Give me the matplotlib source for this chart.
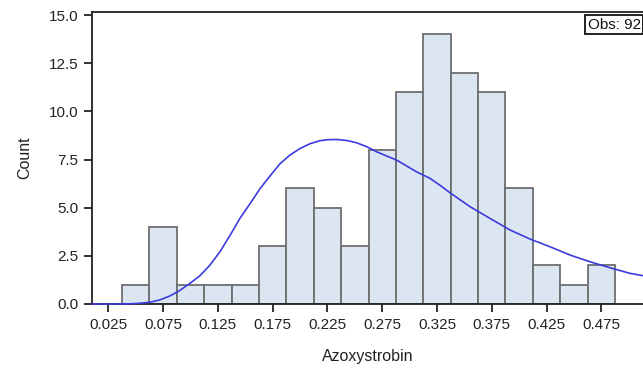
import matplotlib.pyplot as plt

plt.rcParams['font.family'] = ['Liberation Sans', 'DejaVu Sans']

# histogram of Azoxystrobin values, bins of width 0.025
bin_centers = [0.050, 0.075, 0.100, 0.125, 0.150, 0.175, 0.200, 0.225, 0.250,
               0.275, 0.300, 0.325, 0.350, 0.375, 0.400, 0.425, 0.450, 0.475]
counts = [1, 4, 1, 1, 1, 3, 6, 5, 3, 8, 11, 14, 12, 11, 6, 2, 1, 2]
bin_width = 0.025
n_obs = sum(counts)

# fitted density curve, scaled to counts
curve_x = [0.0104, 0.030, 0.045, 0.054, 0.063, 0.072, 0.081, 0.090, 0.0995,
           0.1087, 0.1178, 0.1269, 0.136, 0.1452, 0.1543, 0.1634, 0.1725,
           0.1817, 0.1908, 0.1999, 0.2091, 0.2182, 0.2258, 0.2334, 0.2425,
           0.2516, 0.2608, 0.2699, 0.2882, 0.3064, 0.3187, 0.3276, 0.337,
           0.3552, 0.3735, 0.3917, 0.410, 0.4282, 0.4465, 0.4647, 0.483,
           0.5012, 0.513]
curve_y = [0.0, 0.0, 0.01, 0.04, 0.09, 0.21, 0.41, 0.69, 1.07,
           1.47, 2.02, 2.71, 3.55, 4.45, 5.20, 5.98, 6.64,
           7.28, 7.73, 8.07, 8.32, 8.48, 8.53, 8.54, 8.49,
           8.37, 8.17, 7.90, 7.47, 6.86, 6.52, 6.17, 5.77,
           5.05, 4.44, 3.84, 3.37, 2.97, 2.54, 2.19, 1.88,
           1.59, 1.47]

xticks = [0.025, 0.075, 0.125, 0.175, 0.225, 0.275, 0.325, 0.375, 0.425, 0.475]
yticks = [0.0, 2.5, 5.0, 7.5, 10.0, 12.5, 15.0]

fig = plt.figure(figsize=(6.43, 3.72), dpi=100)
ax = fig.add_axes([0.1435, 0.1828, 0.8565, 0.785])

ax.bar(bin_centers, counts, width=bin_width, color='#dce6f2',
       edgecolor='#6e6e6e', linewidth=1.3, zorder=2)
ax.plot(curve_x, curve_y, color='#3b3bdf', linewidth=1.2, zorder=4,
        clip_on=False)

ax.set_xlim(0.0104, 0.513)
ax.set_ylim(0, 15.16)
ax.set_xticks(xticks)
ax.set_xticklabels(['%.3f' % t for t in xticks])
ax.set_yticks(yticks)
ax.set_yticklabels(['%.1f' % t for t in yticks])
ax.tick_params(direction='out', length=6, width=1.3, labelsize=11,
               colors='#222222', pad=4)

for side in ['left', 'bottom', 'top']:
    ax.spines[side].set_linewidth(1.3)
    ax.spines[side].set_color('#222222')
ax.spines['right'].set_visible(False)

ax.set_xlabel('Azoxystrobin', fontsize=11.5, color='#222222', labelpad=12)
ax.set_ylabel('Count', fontsize=11.5, color='#222222', labelpad=12)

ax.text(0.996, 0.981, 'Obs: %d' % n_obs, transform=ax.transAxes,
        ha='right', va='top', fontsize=11, color='#111111',
        bbox=dict(boxstyle='square,pad=0.15', facecolor='white',
                  edgecolor='#111111', linewidth=1.3))

fig.savefig('out.png', dpi=100)
